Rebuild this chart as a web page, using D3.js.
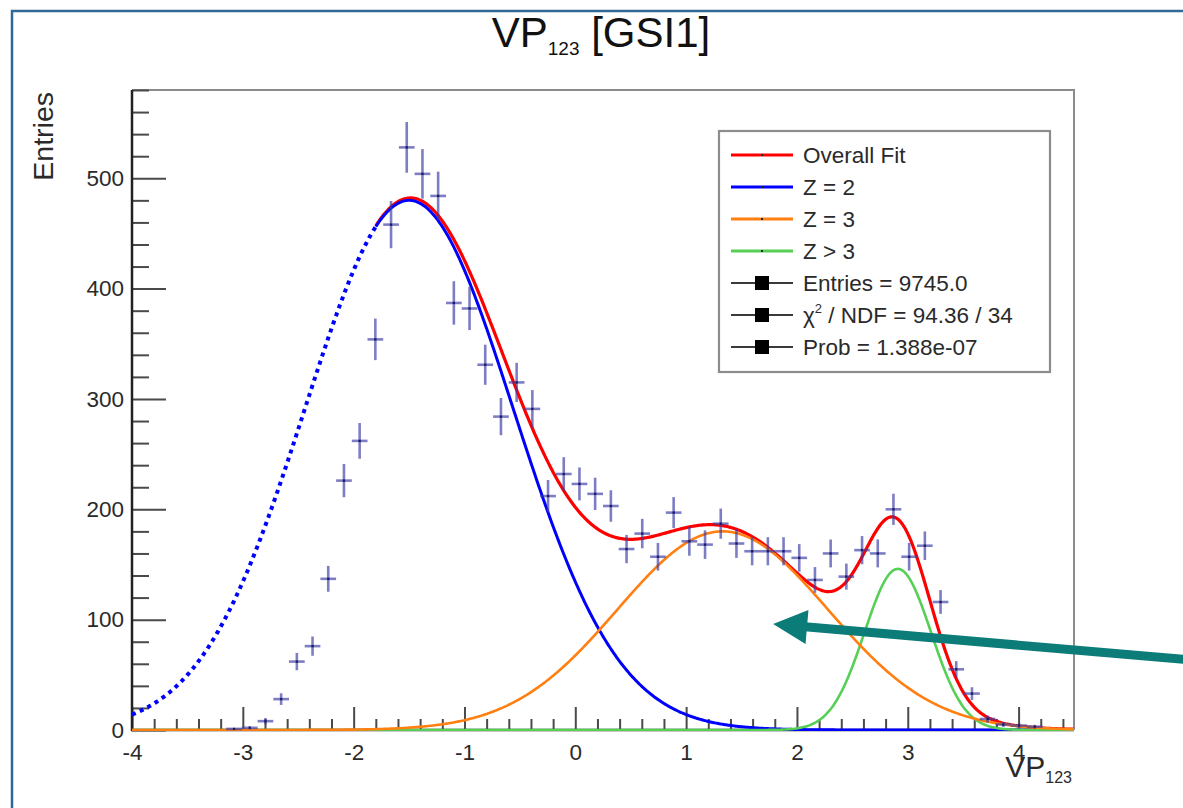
<!DOCTYPE html>
<html>
<head>
<meta charset="utf-8">
<script src="https://cdn.jsdelivr.net/npm/d3@7"></script>
<style>
  html, body { margin: 0; padding: 0; background: #ffffff; }
  svg { display: block; font-family: "Liberation Sans", Arial, Helvetica, sans-serif; }
</style>
</head>
<body>
<svg id="chart" width="1183" height="808"></svg>
<script>
// ---- Histogram of VP123 (60 bins on [-4, 4.5]) ----
const histRange = [-4, 4.5];
const nBins = 60;
const firstFilledBin = 6;
const counts = [
  1, 2, 8, 28, 62, 76, 137, 226, 262, 354,
  458, 528, 504, 484, 387, 382, 331, 284, 315, 291,
  212, 232, 223, 214, 203, 164, 178, 157, 197, 171,
  168, 187, 169, 162, 162, 162, 156, 136, 160, 139,
  163, 160, 200, 157, 167, 116, 55, 33, 10, 5,
  4, 3
];

// ---- Fit: three Gaussian components [amplitude, mean, sigma] ----
const fitRange = [-1.8, 4.5];
const gaussZ2 = [480, -1.50, 0.94];
const gaussZ3 = [180, 1.33, 0.95];
const gaussZgt3 = [146, 2.91, 0.30];

// ---- Legend / statistics ----
const fitLabels = ["Overall Fit", "Z = 2", "Z = 3", "Z > 3"];
const fitColors = ["#ff0000", "#0000ff", "#ff7f11", "#55d055"];
const chi2Text = "94.36 / 34";
const probText = "1.388e-07";

// ---- Axis ticks ----
const xTicks = [-4, -3, -2, -1, 0, 1, 2, 3, 4];
const yTicks = [0, 100, 200, 300, 400, 500];
const yMax = 580;

// ---- Annotation arrow (data units) ----
const arrowTip = [1.785, 96];
const arrowTail = [5.49, 64];

const W = 1183, H = 808;
const frame = { left: 132, right: 1074, top: 90, bottom: 730 };

const svg = d3.select("#chart");
svg.append("rect").attr("width", W).attr("height", H).attr("fill", "#ffffff");

// canvas border
svg.append("rect")
  .attr("x", 12).attr("y", 11).attr("width", W).attr("height", H)
  .attr("fill", "none").attr("stroke", "#2f6a97").attr("stroke-width", 2.5);

const x = d3.scaleLinear().domain(histRange).range([frame.left, frame.right]);
const y = d3.scaleLinear().domain([0, yMax]).range([frame.bottom, frame.top]);

// frame (top and right)
svg.append("path")
  .attr("d", `M${frame.left},${frame.top}H${frame.right}V${frame.bottom}`)
  .attr("fill", "none").attr("stroke", "#8c8c8c").attr("stroke-width", 2);

// ---- axes ----
const xMinor = d3.range(histRange[0], histRange[1] + 1e-9, 0.2)
  .map(v => +v.toFixed(3)).filter(v => !xTicks.some(t => Math.abs(t - v) < 1e-6));
const yMinor = d3.range(0, yMax + 1e-9, 20).filter(v => v % 100 !== 0);

function styleAxis(g) {
  g.select(".domain").remove();
  g.selectAll(".tick line").attr("stroke", "#4a4a4a").attr("stroke-width", 2);
  g.selectAll(".tick text")
    .attr("fill", "#2a2a2a").attr("font-size", 22.5)
    .attr("font-family", "'Liberation Sans', Arial, sans-serif");
}

svg.append("g").attr("transform", `translate(0,${frame.bottom})`)
  .call(d3.axisBottom(x).tickValues(xMinor).tickSize(-11).tickFormat(""))
  .call(styleAxis);
svg.append("g").attr("transform", `translate(0,${frame.bottom})`)
  .call(d3.axisBottom(x).tickValues(xTicks).tickSize(-23).tickPadding(14).tickFormat(d => String(d)))
  .call(styleAxis);
svg.append("g").attr("transform", `translate(${frame.left},0)`)
  .call(d3.axisLeft(y).tickValues(yMinor).tickSize(-17).tickFormat(""))
  .call(styleAxis);
svg.append("g").attr("transform", `translate(${frame.left},0)`)
  .call(d3.axisLeft(y).tickValues(yTicks).tickSize(-34).tickPadding(8).tickFormat(d => String(d)))
  .call(styleAxis);

// axis lines
svg.append("path")
  .attr("d", `M${frame.left},${frame.top}V${frame.bottom}H${frame.right}`)
  .attr("fill", "none").attr("stroke", "#222").attr("stroke-width", 2.5);

// ---- clip to frame ----
svg.append("clipPath").attr("id", "plotClip")
  .append("rect")
  .attr("x", frame.left).attr("y", frame.top - 2)
  .attr("width", frame.right - frame.left).attr("height", frame.bottom - frame.top + 3);

const plot = svg.append("g").attr("clip-path", "url(#plotClip)");

const gauss = (p, v) => p[0] * Math.exp(-0.5 * Math.pow((v - p[1]) / p[2], 2));
const total = v => gauss(gaussZ2, v) + gauss(gaussZ3, v) + gauss(gaussZgt3, v);
const sample = (lo, hi, f) => d3.range(lo, hi + 1e-9, 0.01).map(v => [v, f(v)]);
const line = d3.line().x(d => x(d[0])).y(d => y(d[1]));

// overall fit
plot.append("path").datum(sample(fitRange[0], fitRange[1], total))
  .attr("d", line).attr("fill", "none").attr("stroke", fitColors[0]).attr("stroke-width", 3.2);
// Z = 2 inside the fit range, dotted extension below it
plot.append("path").datum(sample(fitRange[0], fitRange[1], v => gauss(gaussZ2, v)))
  .attr("d", line).attr("fill", "none").attr("stroke", fitColors[1]).attr("stroke-width", 3);
plot.append("path").datum(sample(histRange[0], fitRange[0], v => gauss(gaussZ2, v)))
  .attr("d", line).attr("fill", "none").attr("stroke", fitColors[1])
  .attr("stroke-width", 4).attr("stroke-dasharray", "4,4.5");
// Z > 3 and Z = 3
plot.append("path").datum(sample(histRange[0], histRange[1], v => gauss(gaussZgt3, v)))
  .attr("d", line).attr("fill", "none").attr("stroke", fitColors[3]).attr("stroke-width", 2.6);
plot.append("path").datum(sample(histRange[0], histRange[1], v => gauss(gaussZ3, v)))
  .attr("d", line).attr("fill", "none").attr("stroke", fitColors[2]).attr("stroke-width", 2.6);

// ---- data points with Poisson errors ----
const binW = (histRange[1] - histRange[0]) / nBins;
const points = counts.map((c, k) => {
  const i = firstFilledBin + k;
  const lo = histRange[0] + i * binW;
  return { lo: lo, hi: lo + binW, mid: lo + binW / 2, n: c, err: Math.sqrt(c) };
});
const pg = plot.append("g").attr("stroke", "#3a3aa6").attr("stroke-opacity", 0.66).attr("stroke-width", 2.6);
pg.selectAll("line.v").data(points).join("line").attr("class", "v")
  .attr("x1", d => x(d.mid)).attr("x2", d => x(d.mid))
  .attr("y1", d => y(d.n - d.err)).attr("y2", d => y(d.n + d.err));
pg.selectAll("line.h").data(points).join("line").attr("class", "h")
  .attr("x1", d => x(d.lo)).attr("x2", d => x(d.hi))
  .attr("y1", d => y(d.n)).attr("y2", d => y(d.n));
plot.append("g").selectAll("rect").data(points).join("rect")
  .attr("x", d => x(d.mid) - 1).attr("y", d => y(d.n) - 1)
  .attr("width", 2).attr("height", 2).attr("fill", "#141450");

// ---- legend ----
const lg = svg.append("g");
lg.append("rect").attr("x", 719).attr("y", 131).attr("width", 331).attr("height", 241)
  .attr("fill", "#ffffff").attr("stroke", "#8c8c8c").attr("stroke-width", 2.2);
const rowY = i => 155 + i * 32;
const legendFont = 22.5;
fitLabels.forEach((lab, i) => {
  lg.append("line").attr("x1", 731).attr("x2", 793).attr("y1", rowY(i)).attr("y2", rowY(i))
    .attr("stroke", fitColors[i]).attr("stroke-width", 3.2);
  lg.append("rect").attr("x", 761).attr("y", rowY(i) - 1).attr("width", 2).attr("height", 2).attr("fill", "#222");
  lg.append("text").attr("x", 803).attr("y", rowY(i) + 8)
    .attr("font-size", legendFont).attr("fill", "#2a2a2a").text(lab);
});
const statRows = [
  ["Entries = " + d3.sum(counts).toFixed(1)],
  ["χ", "2", " / NDF = " + chi2Text],
  ["Prob = " + probText]
];
statRows.forEach((parts, k) => {
  const i = fitLabels.length + k;
  lg.append("line").attr("x1", 731).attr("x2", 793).attr("y1", rowY(i)).attr("y2", rowY(i))
    .attr("stroke", "#3a3a3a").attr("stroke-width", 2);
  lg.append("rect").attr("x", 755).attr("y", rowY(i) - 7).attr("width", 14).attr("height", 14).attr("fill", "#000");
  const t = lg.append("text").attr("x", 803).attr("y", rowY(i) + 8)
    .attr("font-size", legendFont).attr("fill", "#2a2a2a");
  if (parts.length === 1) {
    t.text(parts[0]);
  } else {
    t.append("tspan").text(parts[0]);
    t.append("tspan").attr("font-size", 13).attr("dy", -10).text(parts[1]);
    t.append("tspan").attr("dy", 10).text(parts[2]);
  }
});

// ---- titles ----
const title = svg.append("text").attr("x", 601).attr("y", 47)
  .attr("text-anchor", "middle").attr("font-size", 42).attr("fill", "#111");
title.append("tspan").text("VP");
title.append("tspan").attr("font-size", 19).attr("dy", 8).text("123");
title.append("tspan").attr("dy", -8).text(" [GSI1]");

const xt = svg.append("text").attr("x", 1072).attr("y", 777)
  .attr("text-anchor", "end").attr("font-size", 30).attr("fill", "#2a2a2a");
xt.append("tspan").text("VP");
xt.append("tspan").attr("font-size", 16).attr("dy", 6).text("123");

svg.append("text").attr("transform", "translate(53,92) rotate(-90)")
  .attr("text-anchor", "end").attr("font-size", 28.5).attr("fill", "#2a2a2a").text("Entries");

// ---- annotation arrow ----
const tip = [x(arrowTip[0]), y(arrowTip[1])];
const tail = [x(arrowTail[0]), y(arrowTail[1])];
const dx = tip[0] - tail[0], dy = tip[1] - tail[1];
const len = Math.hypot(dx, dy);
const ux = dx / len, uy = dy / len;
const headLen = 34, headHalf = 17;
const base = [tip[0] - ux * headLen, tip[1] - uy * headLen];
svg.append("line")
  .attr("x1", tail[0]).attr("y1", tail[1]).attr("x2", base[0] + ux * 2).attr("y2", base[1] + uy * 2)
  .attr("stroke", "#0b7c78").attr("stroke-width", 9);
svg.append("polygon")
  .attr("points", [
    tip,
    [base[0] - uy * headHalf, base[1] + ux * headHalf],
    [base[0] + uy * headHalf, base[1] - ux * headHalf]
  ].map(p => p.join(",")).join(" "))
  .attr("fill", "#0b7c78");
</script>
</body>
</html>
